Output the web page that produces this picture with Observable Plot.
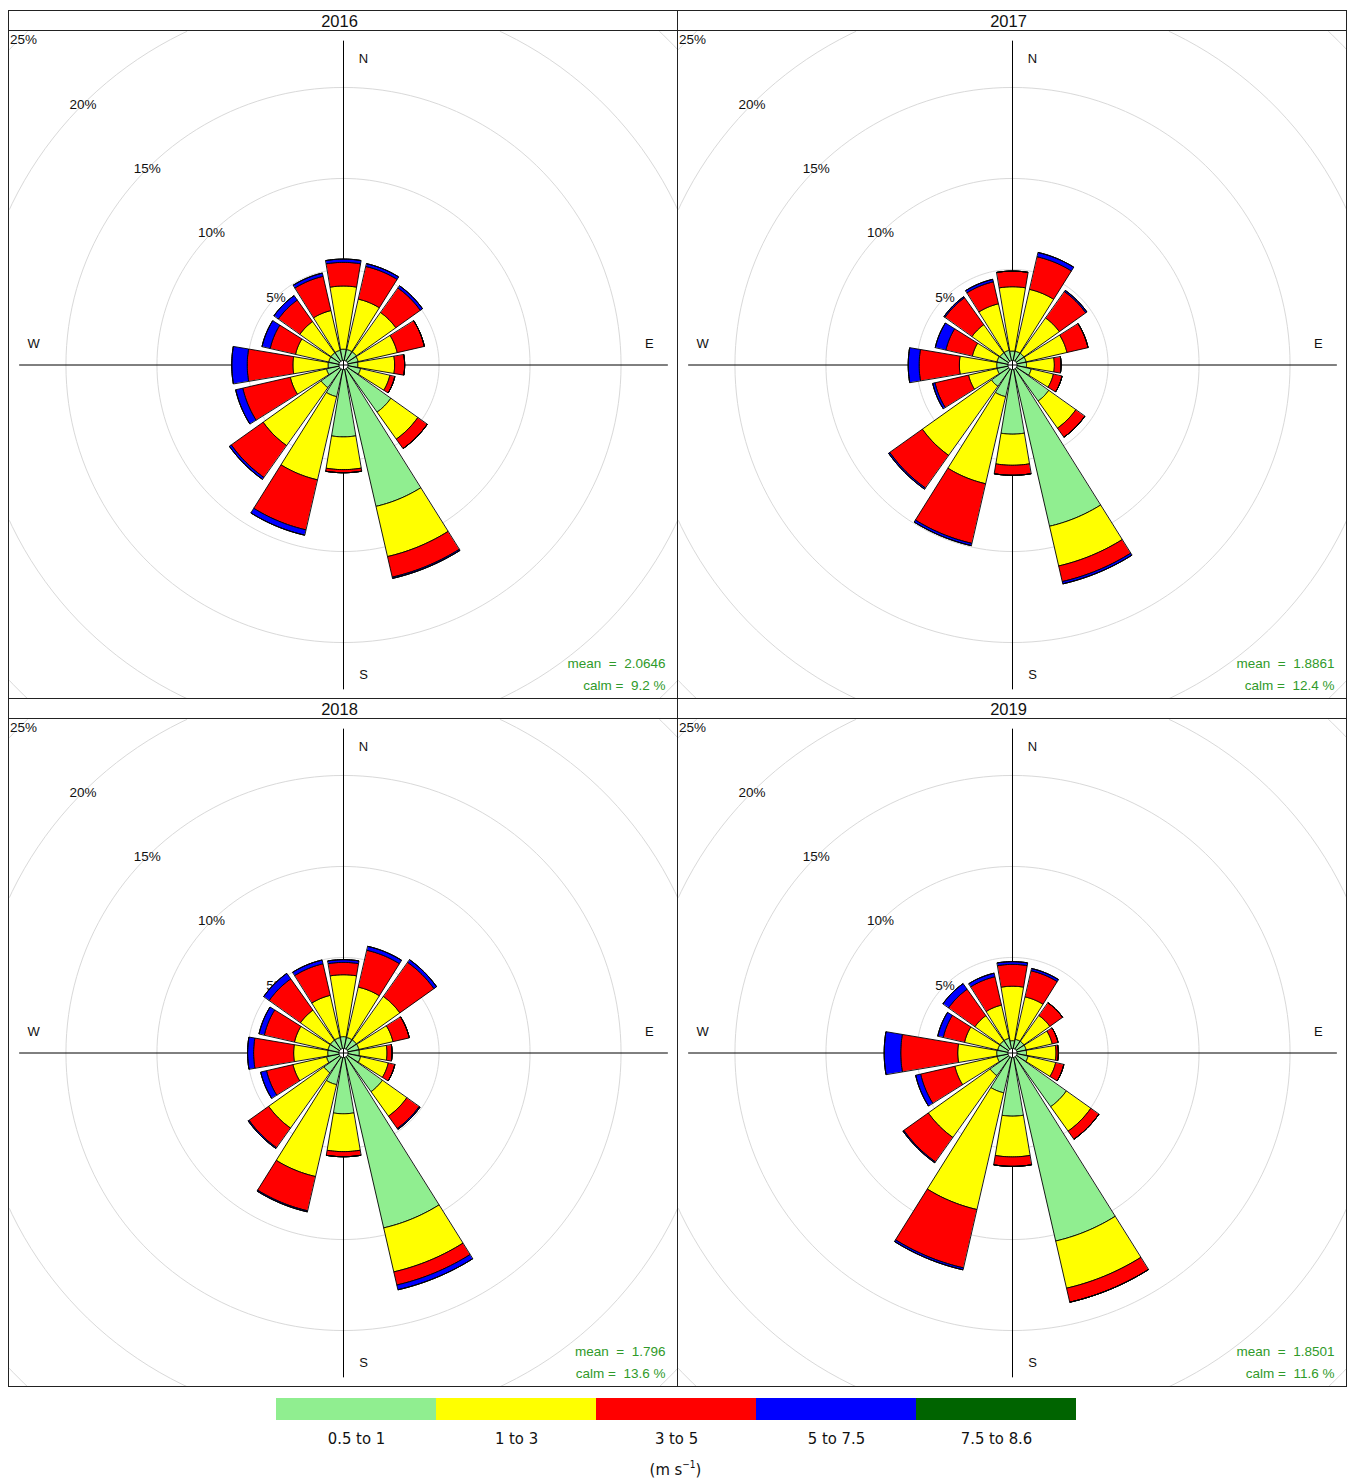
<!DOCTYPE html>
<html>
<head>
<meta charset="utf-8">
<script src="https://cdn.jsdelivr.net/npm/d3@7"></script>
<script src="https://cdn.jsdelivr.net/npm/@observablehq/plot@0.6"></script>
<style>
  body { margin: 0; background: #fff; font-family: "Liberation Sans", Arial, sans-serif; }
  #root { position: relative; width: 1354px; height: 1484px; background: #fff; }
  .panel { position: absolute; width: 670px; height: 689px; box-sizing: border-box; border: 1px solid #222; background: #fff; overflow: hidden; }
  .strip { height: 19px; border-bottom: 1px solid #222; text-align: center; font-size: 16.5px; line-height: 20px; color: #111; padding-right: 7px; }
  .panel svg { display: block; }
  #legend { position: absolute; left: 275px; top: 1398px; }
  #legend svg { display: block; overflow: visible; }
  #unit { position: absolute; left: 275px; width: 801px; top: 1459px; text-align: center; font-size: 16.5px;
          font-family: "Liberation Sans Narrow", "DejaVu Sans Condensed", "Liberation Sans", sans-serif; font-stretch: condensed; color: #111; }
  #unit sup { font-size: 10px; }
</style>
</head>
<body>
<div id="root"></div>
<script>
// ---------------- data ----------------
const years = ["2016", "2017", "2018", "2019"];
const directionLabels = ["N","NNE","NE","ENE","E","ESE","SE","SSE","S","SSW","SW","WSW","W","WNW","NW","NNW"];
const directionDeg = [0, 22.5, 45, 67.5, 90, 112.5, 135, 157.5, 180, 202.5, 225, 247.5, 270, 292.5, 315, 337.5];
const speedBins = ["0.5 to 1", "1 to 3", "3 to 5", "5 to 7.5", "7.5 to 8.6"];
const binColors = ["#90EE90", "#FFFF00", "#FF0000", "#0000FF", "#006400"];
const ringPct = [5, 10, 15, 20, 25];
const means = ["2.0646", "1.8861", "1.796", "1.8501"];
const calms = ["9.2", "12.4", "13.6", "11.6"];

// frequency (%) per speed bin (rows) and direction (columns, N..NNW)
const freq2016 = [
  [0.62, 0.62, 0.62, 0.58, 0.54, 0.71, 2.93, 7.72, 3.70, 1.53, 1.26, 0.71, 0.60, 0.58, 0.58, 0.58],
  [3.47, 2.84, 2.66, 2.20, 2.02, 1.65, 1.82, 2.83, 1.80, 4.69, 3.91, 2.04, 1.93, 1.87, 2.10, 2.24],
  [1.30, 1.84, 1.65, 1.53, 0.55, 0.28, 0.64, 1.16, 0.17, 2.82, 2.15, 2.68, 2.51, 1.43, 1.45, 1.93],
  [0.18, 0.16, 0.15, 0, 0, 0, 0, 0.07, 0, 0.30, 0.13, 0.40, 0.85, 0.46, 0.30, 0.18],
  [0, 0, 0, 0, 0, 0, 0, 0, 0, 0, 0, 0, 0, 0, 0, 0]
];
const freq2017 = [
  [0.52, 0.52, 0.52, 0.52, 0.52, 0.80, 2.18, 8.84, 3.55, 1.53, 1.17, 0.62, 0.62, 0.62, 0.58, 0.58],
  [3.53, 3.49, 2.39, 2.30, 1.53, 1.25, 1.83, 2.24, 1.71, 4.91, 4.66, 1.61, 2.05, 1.39, 1.89, 2.62],
  [0.86, 1.84, 1.78, 1.19, 0.37, 0.49, 0.61, 0.88, 0.55, 3.36, 2.20, 1.89, 2.21, 1.49, 1.82, 1.24],
  [0, 0.24, 0.08, 0, 0, 0, 0, 0.13, 0, 0.13, 0.08, 0.13, 0.60, 0.60, 0.07, 0.14],
  [0, 0, 0, 0, 0, 0, 0, 0, 0, 0, 0, 0, 0, 0, 0, 0]
];
const freq2018 = [
  [0.65, 0.62, 0.62, 0.62, 0.62, 0.71, 2.36, 9.61, 3.09, 1.53, 1.07, 0.71, 0.62, 0.62, 0.62, 0.62],
  [3.40, 2.84, 2.93, 1.92, 1.52, 1.56, 1.65, 2.48, 2.08, 5.18, 3.73, 1.89, 1.87, 1.89, 2.02, 2.38],
  [0.68, 2.08, 2.30, 0.92, 0.28, 0.37, 0.83, 0.74, 0.28, 1.93, 1.32, 1.49, 2.20, 1.70, 2.11, 1.78],
  [0.15, 0.22, 0.18, 0, 0, 0, 0.06, 0.27, 0, 0.06, 0.06, 0.33, 0.33, 0.30, 0.37, 0.21],
  [0, 0, 0, 0, 0, 0, 0, 0, 0, 0, 0, 0, 0, 0, 0, 0]
];
const freq2019 = [
  [0.43, 0.52, 0.52, 0.52, 0.52, 0.62, 3.37, 10.35, 3.22, 1.99, 1.26, 0.62, 0.62, 0.58, 0.58, 0.58],
  [2.99, 2.39, 1.75, 1.47, 1.62, 1.56, 1.65, 2.66, 2.24, 6.58, 4.17, 2.38, 2.14, 1.87, 1.69, 1.87],
  [1.20, 1.47, 0.86, 0.33, 0.13, 0.46, 0.55, 0.79, 0.52, 3.29, 1.65, 1.93, 3.13, 1.20, 1.78, 1.60],
  [0.15, 0.13, 0, 0, 0, 0, 0, 0, 0, 0.11, 0.06, 0.28, 0.91, 0.31, 0.38, 0.20],
  [0, 0, 0, 0, 0, 0, 0, 0, 0, 0, 0, 0, 0, 0, 0, 0]
];
const freqByYear = [freq2016, freq2017, freq2018, freq2019];

// ---------------- geometry helpers ----------------
const K = 18.2;      // px per percent
const OFF = 0.25;    // calm-circle offset (percent)
const AXIS_MAX = 17.55;
const BIN_WIDTH = 22.5;
const FILL_FRAC = 0.85;

function polarProjection({width, height}) {
  return d3.geoTransform({
    point(a, p) {
      const r = (p + OFF) * K, t = a * Math.PI / 180;
      this.stream.point(width / 2 + r * Math.sin(t), height / 2 - r * Math.cos(t));
    }
  });
}

function arc(a0, a1, r, n = 18) {
  return d3.range(n + 1).map(i => [a0 + (a1 - a0) * i / n, r]);
}

function wedgeFeatures(freq) {
  const feats = [];
  directionDeg.forEach((dir, i) => {
    const half = BIN_WIDTH * FILL_FRAC / 2;
    let cum = 0;
    speedBins.forEach((bin, b) => {
      const r1 = cum, r2 = cum + freq[b][i];
      cum = r2;
      const ring = [...arc(dir - half, dir + half, r1), ...arc(dir + half, dir - half, r2)];
      ring.push(ring[0]);
      feats.push({type: "Feature", properties: {bin, dir: directionLabels[i]}, geometry: {type: "Polygon", coordinates: [ring]}});
    });
  });
  return feats;
}

const ringLines = ringPct.map(p => ({type: "LineString", coordinates: d3.range(0, 361, 2).map(a => [a, p])}));
const axisLines = [
  {type: "LineString", coordinates: [[0, AXIS_MAX], [180, AXIS_MAX]]},
  {type: "LineString", coordinates: [[90, AXIS_MAX], [270, AXIS_MAX]]}
];

const root = document.getElementById("root");
const FONT = "'Liberation Sans', Arial, sans-serif";

years.forEach((year, k) => {
  const col = k % 2, row = Math.floor(k / 2);
  const panel = document.createElement("div");
  panel.className = "panel";
  panel.style.left = (8 + col * 669) + "px";
  panel.style.top = (10 + row * 688) + "px";
  const strip = document.createElement("div");
  strip.className = "strip";
  strip.textContent = year;
  panel.appendChild(strip);

  const chart = Plot.plot({
    width: 668,
    height: 667,
    margin: 0,
    style: {fontFamily: FONT, background: "white"},
    projection: polarProjection,
    color: {domain: speedBins, range: binColors},
    marks: [
      Plot.geo(ringLines, {stroke: "#d9d9d9", strokeWidth: 1}),
      Plot.text(ringPct.filter(d => d < 25), {x: () => 315, y: d => d, text: d => d + "%", fontSize: 13.5, fill: "#111"}),
      Plot.text(ringPct.filter(d => d === 25), {x: () => 315, y: d => d, text: d => d + "%", dx: 5, fontSize: 13.5, fill: "#111"}),
      Plot.geo(axisLines, {stroke: "black", strokeWidth: 1}),
      Plot.geo(wedgeFeatures(freqByYear[k]), {fill: d => d.properties.bin, stroke: "black", strokeWidth: 0.9}),
      Plot.text(["N"], {x: () => 0, y: () => 16.56, dx: 20, fontSize: 13, fill: "#111"}),
      Plot.text(["S"], {x: () => 180, y: () => 16.78, dx: 20, fontSize: 13, fill: "#111"}),
      Plot.text(["E"], {x: () => 90, y: () => 16.56, dy: -21, fontSize: 13, fill: "#111"}),
      Plot.text(["W"], {x: () => 270, y: () => 16.78, dy: -21, fontSize: 13, fill: "#111"}),
      Plot.text([`mean\u00a0\u00a0=\u00a0\u00a0${means[k]}`], {frameAnchor: "bottom-right", textAnchor: "end", lineAnchor: "middle", dx: -12, dy: -35, fontSize: 13.5, fill: "#2f9a2a"}),
      Plot.text([`calm\u00a0=\u00a0\u00a0${calms[k]}\u00a0%`], {frameAnchor: "bottom-right", textAnchor: "end", lineAnchor: "middle", dx: -12, dy: -13, fontSize: 13.5, fill: "#2f9a2a"})
    ]
  });
  panel.appendChild(chart);
  root.appendChild(panel);
});

// ---------------- legend ----------------
const legendDiv = document.createElement("div");
legendDiv.id = "legend";
const legend = Plot.plot({
  width: 801,
  height: 56,
  marginTop: 0, marginBottom: 34, marginLeft: 0, marginRight: 0,
  style: {fontFamily: "'Liberation Sans Narrow', 'DejaVu Sans Condensed', 'Liberation Sans', sans-serif", fontSize: "16.5px"},
  x: {type: "band", domain: speedBins, padding: 0},
  color: {domain: speedBins, range: binColors},
  marks: [
    Plot.cell(speedBins, {x: d => d, fill: d => d, inset: 0}),
    Plot.axisX({tickSize: 0, tickPadding: 12, label: null, fontSize: 16.5, fill: "#111"})
  ]
});
legendDiv.appendChild(legend);
root.appendChild(legendDiv);
const unit = document.createElement("div");
unit.id = "unit";
unit.innerHTML = "(m s<sup>−1</sup>)";
root.appendChild(unit);
</script>
</body>
</html>
